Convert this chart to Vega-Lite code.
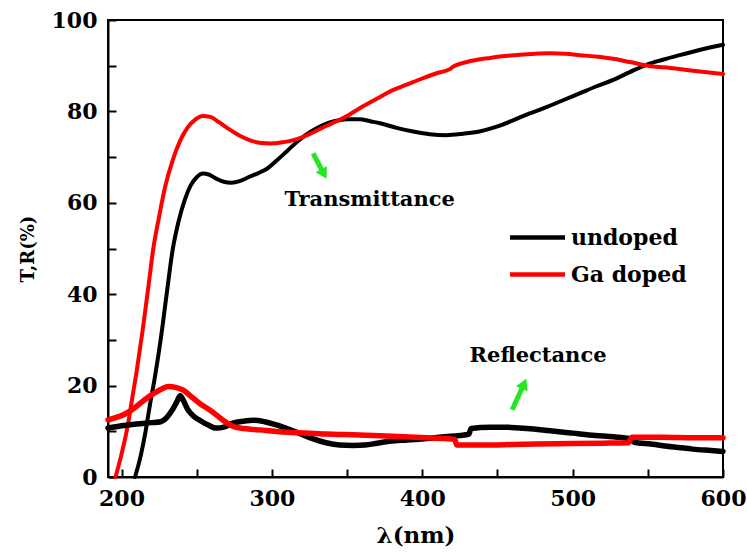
{
  "$schema": "https://vega.github.io/schema/vega-lite/v6.json",
  "width": 615,
  "height": 457,
  "autosize": {"type": "none"},
  "padding": {"left": 108, "top": 20, "right": 24, "bottom": 79},
  "background": "white",
  "config": {
    "view": {"stroke": "black", "strokeWidth": 2},
    "font": "DejaVu Serif",
    "axis": {
      "grid": false,
      "domainColor": "black",
      "domainWidth": 2,
      "tickColor": "black",
      "tickWidth": 2,
      "labelFont": "DejaVu Serif",
      "labelFontWeight": "bold",
      "labelFontSize": 22,
      "labelColor": "black",
      "labelFlush": false,
      "labelOverlap": false,
      "titleFont": "DejaVu Serif",
      "titleFontWeight": "bold",
      "titleColor": "black"
    }
  },
  "datasets": {
    "curves": [
      {"sample":"undoped","kind":"T","wl":209,"v":0},
      {"sample":"undoped","kind":"T","wl":213,"v":5},
      {"sample":"undoped","kind":"T","wl":216,"v":10},
      {"sample":"undoped","kind":"T","wl":219,"v":16},
      {"sample":"undoped","kind":"T","wl":222,"v":21.5},
      {"sample":"undoped","kind":"T","wl":226,"v":30},
      {"sample":"undoped","kind":"T","wl":230,"v":40},
      {"sample":"undoped","kind":"T","wl":234,"v":49.7},
      {"sample":"undoped","kind":"T","wl":238,"v":56},
      {"sample":"undoped","kind":"T","wl":242,"v":60.6},
      {"sample":"undoped","kind":"T","wl":246,"v":63.8},
      {"sample":"undoped","kind":"T","wl":250,"v":65.6},
      {"sample":"undoped","kind":"T","wl":254,"v":66.4},
      {"sample":"undoped","kind":"T","wl":258,"v":66.2},
      {"sample":"undoped","kind":"T","wl":263,"v":65.3},
      {"sample":"undoped","kind":"T","wl":268,"v":64.6},
      {"sample":"undoped","kind":"T","wl":273,"v":64.4},
      {"sample":"undoped","kind":"T","wl":279,"v":64.8},
      {"sample":"undoped","kind":"T","wl":285,"v":65.7},
      {"sample":"undoped","kind":"T","wl":291,"v":66.5},
      {"sample":"undoped","kind":"T","wl":297,"v":67.5},
      {"sample":"undoped","kind":"T","wl":303,"v":69.2},
      {"sample":"undoped","kind":"T","wl":310,"v":71.3},
      {"sample":"undoped","kind":"T","wl":318,"v":73.7},
      {"sample":"undoped","kind":"T","wl":326,"v":75.6},
      {"sample":"undoped","kind":"T","wl":334,"v":77},
      {"sample":"undoped","kind":"T","wl":342,"v":77.9},
      {"sample":"undoped","kind":"T","wl":350,"v":78.3},
      {"sample":"undoped","kind":"T","wl":358,"v":78.3},
      {"sample":"undoped","kind":"T","wl":366,"v":77.8},
      {"sample":"undoped","kind":"T","wl":372,"v":77.4},
      {"sample":"undoped","kind":"T","wl":383,"v":76.4},
      {"sample":"undoped","kind":"T","wl":394,"v":75.6},
      {"sample":"undoped","kind":"T","wl":405,"v":75},
      {"sample":"undoped","kind":"T","wl":416,"v":74.8},
      {"sample":"undoped","kind":"T","wl":427,"v":75.1},
      {"sample":"undoped","kind":"T","wl":438,"v":75.6},
      {"sample":"undoped","kind":"T","wl":449,"v":76.6},
      {"sample":"undoped","kind":"T","wl":460,"v":78},
      {"sample":"undoped","kind":"T","wl":471,"v":79.5},
      {"sample":"undoped","kind":"T","wl":483,"v":81},
      {"sample":"undoped","kind":"T","wl":494,"v":82.5},
      {"sample":"undoped","kind":"T","wl":505,"v":84},
      {"sample":"undoped","kind":"T","wl":516,"v":85.5},
      {"sample":"undoped","kind":"T","wl":527,"v":86.9},
      {"sample":"undoped","kind":"T","wl":538,"v":88.6},
      {"sample":"undoped","kind":"T","wl":549,"v":90.2},
      {"sample":"undoped","kind":"T","wl":560,"v":91.3},
      {"sample":"undoped","kind":"T","wl":571,"v":92.3},
      {"sample":"undoped","kind":"T","wl":585,"v":93.5},
      {"sample":"undoped","kind":"T","wl":600,"v":94.6},

      {"sample":"Ga doped","kind":"T","wl":196,"v":0},
      {"sample":"Ga doped","kind":"T","wl":200,"v":5},
      {"sample":"Ga doped","kind":"T","wl":204,"v":11},
      {"sample":"Ga doped","kind":"T","wl":207,"v":17},
      {"sample":"Ga doped","kind":"T","wl":210,"v":23},
      {"sample":"Ga doped","kind":"T","wl":214,"v":32},
      {"sample":"Ga doped","kind":"T","wl":218,"v":42},
      {"sample":"Ga doped","kind":"T","wl":221,"v":49.7},
      {"sample":"Ga doped","kind":"T","wl":225,"v":57},
      {"sample":"Ga doped","kind":"T","wl":229,"v":63.5},
      {"sample":"Ga doped","kind":"T","wl":234,"v":69.3},
      {"sample":"Ga doped","kind":"T","wl":239,"v":73.6},
      {"sample":"Ga doped","kind":"T","wl":244,"v":76.5},
      {"sample":"Ga doped","kind":"T","wl":249,"v":78.2},
      {"sample":"Ga doped","kind":"T","wl":254,"v":79},
      {"sample":"Ga doped","kind":"T","wl":259,"v":78.8},
      {"sample":"Ga doped","kind":"T","wl":265,"v":77.6},
      {"sample":"Ga doped","kind":"T","wl":272,"v":76},
      {"sample":"Ga doped","kind":"T","wl":279,"v":74.6},
      {"sample":"Ga doped","kind":"T","wl":286,"v":73.6},
      {"sample":"Ga doped","kind":"T","wl":293,"v":73.1},
      {"sample":"Ga doped","kind":"T","wl":299,"v":73},
      {"sample":"Ga doped","kind":"T","wl":306,"v":73.2},
      {"sample":"Ga doped","kind":"T","wl":313,"v":73.6},
      {"sample":"Ga doped","kind":"T","wl":320,"v":74.3},
      {"sample":"Ga doped","kind":"T","wl":328,"v":75.5},
      {"sample":"Ga doped","kind":"T","wl":336,"v":76.8},
      {"sample":"Ga doped","kind":"T","wl":344,"v":78},
      {"sample":"Ga doped","kind":"T","wl":352,"v":79.4},
      {"sample":"Ga doped","kind":"T","wl":360,"v":81},
      {"sample":"Ga doped","kind":"T","wl":370,"v":82.8},
      {"sample":"Ga doped","kind":"T","wl":380,"v":84.6},
      {"sample":"Ga doped","kind":"T","wl":390,"v":85.9},
      {"sample":"Ga doped","kind":"T","wl":400,"v":87.2},
      {"sample":"Ga doped","kind":"T","wl":410,"v":88.4},
      {"sample":"Ga doped","kind":"T","wl":418,"v":89.2},
      {"sample":"Ga doped","kind":"T","wl":421,"v":89.9},
      {"sample":"Ga doped","kind":"T","wl":426,"v":90.5},
      {"sample":"Ga doped","kind":"T","wl":435,"v":91.2},
      {"sample":"Ga doped","kind":"T","wl":445,"v":91.7},
      {"sample":"Ga doped","kind":"T","wl":455,"v":92.1},
      {"sample":"Ga doped","kind":"T","wl":465,"v":92.4},
      {"sample":"Ga doped","kind":"T","wl":475,"v":92.6},
      {"sample":"Ga doped","kind":"T","wl":485,"v":92.7},
      {"sample":"Ga doped","kind":"T","wl":495,"v":92.6},
      {"sample":"Ga doped","kind":"T","wl":505,"v":92.3},
      {"sample":"Ga doped","kind":"T","wl":515,"v":92},
      {"sample":"Ga doped","kind":"T","wl":527,"v":91.5},
      {"sample":"Ga doped","kind":"T","wl":538,"v":90.8},
      {"sample":"Ga doped","kind":"T","wl":552,"v":89.9},
      {"sample":"Ga doped","kind":"T","wl":565,"v":89.5},
      {"sample":"Ga doped","kind":"T","wl":580,"v":88.9},
      {"sample":"Ga doped","kind":"T","wl":600,"v":88.2},

      {"sample":"undoped","kind":"R","wl":191,"v":10.7},
      {"sample":"undoped","kind":"R","wl":200,"v":11.2},
      {"sample":"undoped","kind":"R","wl":210,"v":11.6},
      {"sample":"undoped","kind":"R","wl":220,"v":11.9},
      {"sample":"undoped","kind":"R","wl":226,"v":12.1},
      {"sample":"undoped","kind":"R","wl":230,"v":13},
      {"sample":"undoped","kind":"R","wl":234,"v":14.8},
      {"sample":"undoped","kind":"R","wl":237,"v":16.6},
      {"sample":"undoped","kind":"R","wl":239,"v":17.8},
      {"sample":"undoped","kind":"R","wl":241,"v":16.8},
      {"sample":"undoped","kind":"R","wl":244,"v":14.8},
      {"sample":"undoped","kind":"R","wl":248,"v":13.3},
      {"sample":"undoped","kind":"R","wl":253,"v":12.2},
      {"sample":"undoped","kind":"R","wl":258,"v":11.3},
      {"sample":"undoped","kind":"R","wl":263,"v":10.7},
      {"sample":"undoped","kind":"R","wl":268,"v":10.9},
      {"sample":"undoped","kind":"R","wl":274,"v":11.8},
      {"sample":"undoped","kind":"R","wl":281,"v":12.2},
      {"sample":"undoped","kind":"R","wl":288,"v":12.4},
      {"sample":"undoped","kind":"R","wl":295,"v":12.1},
      {"sample":"undoped","kind":"R","wl":303,"v":11.4},
      {"sample":"undoped","kind":"R","wl":310,"v":10.6},
      {"sample":"undoped","kind":"R","wl":318,"v":9.6},
      {"sample":"undoped","kind":"R","wl":327,"v":8.4},
      {"sample":"undoped","kind":"R","wl":336,"v":7.5},
      {"sample":"undoped","kind":"R","wl":345,"v":7.0},
      {"sample":"undoped","kind":"R","wl":354,"v":6.9},
      {"sample":"undoped","kind":"R","wl":362,"v":7.0},
      {"sample":"undoped","kind":"R","wl":370,"v":7.4},
      {"sample":"undoped","kind":"R","wl":378,"v":7.8},
      {"sample":"undoped","kind":"R","wl":390,"v":8.1},
      {"sample":"undoped","kind":"R","wl":403,"v":8.4},
      {"sample":"undoped","kind":"R","wl":415,"v":8.8},
      {"sample":"undoped","kind":"R","wl":425,"v":9.1},
      {"sample":"undoped","kind":"R","wl":431,"v":9.4},
      {"sample":"undoped","kind":"R","wl":432.5,"v":10.6},
      {"sample":"undoped","kind":"R","wl":445,"v":10.9},
      {"sample":"undoped","kind":"R","wl":455,"v":10.9},
      {"sample":"undoped","kind":"R","wl":470,"v":10.6},
      {"sample":"undoped","kind":"R","wl":485,"v":10.1},
      {"sample":"undoped","kind":"R","wl":500,"v":9.6},
      {"sample":"undoped","kind":"R","wl":515,"v":9.1},
      {"sample":"undoped","kind":"R","wl":527,"v":8.8},
      {"sample":"undoped","kind":"R","wl":538,"v":8.4},
      {"sample":"undoped","kind":"R","wl":541,"v":7.6},
      {"sample":"undoped","kind":"R","wl":552,"v":7.2},
      {"sample":"undoped","kind":"R","wl":566,"v":6.6},
      {"sample":"undoped","kind":"R","wl":580,"v":6.1},
      {"sample":"undoped","kind":"R","wl":592,"v":5.8},
      {"sample":"undoped","kind":"R","wl":600,"v":5.6},

      {"sample":"Ga doped","kind":"R","wl":191,"v":12.5},
      {"sample":"Ga doped","kind":"R","wl":197,"v":13.1},
      {"sample":"Ga doped","kind":"R","wl":203,"v":13.9},
      {"sample":"Ga doped","kind":"R","wl":209,"v":15.2},
      {"sample":"Ga doped","kind":"R","wl":215,"v":16.8},
      {"sample":"Ga doped","kind":"R","wl":222,"v":18.4},
      {"sample":"Ga doped","kind":"R","wl":227,"v":19.3},
      {"sample":"Ga doped","kind":"R","wl":231,"v":19.8},
      {"sample":"Ga doped","kind":"R","wl":236,"v":19.6},
      {"sample":"Ga doped","kind":"R","wl":241,"v":19.0},
      {"sample":"Ga doped","kind":"R","wl":246,"v":17.7},
      {"sample":"Ga doped","kind":"R","wl":252,"v":16.1},
      {"sample":"Ga doped","kind":"R","wl":258,"v":14.8},
      {"sample":"Ga doped","kind":"R","wl":263,"v":13.6},
      {"sample":"Ga doped","kind":"R","wl":268,"v":12.3},
      {"sample":"Ga doped","kind":"R","wl":274,"v":11.1},
      {"sample":"Ga doped","kind":"R","wl":281,"v":10.6},
      {"sample":"Ga doped","kind":"R","wl":288,"v":10.4},
      {"sample":"Ga doped","kind":"R","wl":296,"v":10.2},
      {"sample":"Ga doped","kind":"R","wl":305,"v":9.9},
      {"sample":"Ga doped","kind":"R","wl":318,"v":9.7},
      {"sample":"Ga doped","kind":"R","wl":336,"v":9.4},
      {"sample":"Ga doped","kind":"R","wl":358,"v":9.2},
      {"sample":"Ga doped","kind":"R","wl":380,"v":8.9},
      {"sample":"Ga doped","kind":"R","wl":403,"v":8.6},
      {"sample":"Ga doped","kind":"R","wl":415,"v":8.4},
      {"sample":"Ga doped","kind":"R","wl":421.5,"v":8.2},
      {"sample":"Ga doped","kind":"R","wl":423,"v":7.0},
      {"sample":"Ga doped","kind":"R","wl":440,"v":7.0},
      {"sample":"Ga doped","kind":"R","wl":460,"v":7.1},
      {"sample":"Ga doped","kind":"R","wl":490,"v":7.3},
      {"sample":"Ga doped","kind":"R","wl":520,"v":7.4},
      {"sample":"Ga doped","kind":"R","wl":537,"v":7.5},
      {"sample":"Ga doped","kind":"R","wl":539.5,"v":8.7},
      {"sample":"Ga doped","kind":"R","wl":560,"v":8.7},
      {"sample":"Ga doped","kind":"R","wl":580,"v":8.6},
      {"sample":"Ga doped","kind":"R","wl":600,"v":8.6}
    ],
    "labels": [
      {"text": "Transmittance", "wl": 365, "v": 60.6},
      {"text": "Reflectance", "wl": 477, "v": 26.5}
    ],
    "arrows": [
      {"id": 1, "wl": 327.4, "v": 70.8, "wl2": 334.6, "v2": 66.3},
      {"id": 2, "wl": 459.8, "v": 14.7, "wl2": 467.7, "v2": 20.4}
    ],
    "heads": [
      {"id": 1, "wl": 334.6, "v": 66.3},
      {"id": 2, "wl": 467.7, "v": 20.4}
    ]
  },
  "encoding": {
    "x": {
      "field": "wl",
      "type": "quantitative",
      "scale": {"domain": [191, 600], "nice": false, "zero": false},
      "axis": {
        "title": "λ(nm)",
        "titleFontSize": 23,
        "titlePadding": 15,
        "values": [200, 250, 300, 350, 400, 450, 500, 550, 600],
        "labelExpr": "datum.value % 100 === 0 ? datum.label : ''",
        "tickSize": -8,
        "labelPadding": 19
      }
    },
    "y": {
      "field": "v",
      "type": "quantitative",
      "scale": {"domain": [0, 100], "nice": false, "zero": true},
      "axis": {
        "title": "T,R(%)",
        "titleFontSize": 18,
        "titlePadding": 14,
        "values": [0, 10, 20, 30, 40, 50, 60, 70, 80, 90, 100],
        "labelExpr": "datum.value % 20 === 0 ? datum.label : ''",
        "tickSize": -8,
        "labelPadding": 19
      }
    }
  },
  "layer": [
    {
      "data": {"name": "curves"},
      "mark": {"type": "line", "interpolate": "monotone", "strokeJoin": "round", "strokeCap": "round"},
      "encoding": {
        "color": {
          "field": "sample",
          "type": "nominal",
          "scale": {"domain": ["undoped", "Ga doped"], "range": ["#000000", "#ff0000"]},
          "legend": {
            "orient": "none",
            "legendX": 418,
            "legendY": 206,
            "title": null,
            "padding": 0,
            "symbolType": "M-3,0L3,0",
            "symbolSize": 336,
            "symbolStrokeWidth": 4.5,
            "labelFont": "DejaVu Serif",
            "labelFontWeight": "bold",
            "labelFontSize": 22,
            "labelColor": "black",
            "labelOffset": 22,
            "rowPadding": 14
          }
        },
        "detail": {"field": "kind", "type": "nominal"},
        "strokeWidth": {
          "field": "kind",
          "type": "nominal",
          "scale": {"domain": ["T", "R"], "range": [4, 5.5]},
          "legend": null
        }
      }
    },
    {
      "data": {"name": "labels"},
      "mark": {"type": "text", "font": "DejaVu Serif", "fontWeight": "bold", "fontSize": 21, "align": "center", "baseline": "middle", "color": "black"},
      "encoding": {"text": {"field": "text"}}
    },
    {
      "data": {"name": "arrows"},
      "mark": {"type": "rule", "color": "#22e822", "strokeWidth": 5},
      "encoding": {"x2": {"field": "wl2"}, "y2": {"field": "v2"}}
    },
    {
      "data": {"name": "heads"},
      "transform": [{"filter": "datum.id === 1"}],
      "mark": {"type": "point", "shape": "triangle-up", "filled": true, "color": "#22e822", "opacity": 1, "size": 160, "angle": 152},
      "encoding": {}
    },
    {
      "data": {"name": "heads"},
      "transform": [{"filter": "datum.id === 2"}],
      "mark": {"type": "point", "shape": "triangle-up", "filled": true, "color": "#22e822", "opacity": 1, "size": 160, "angle": 24},
      "encoding": {}
    }
  ]
}
